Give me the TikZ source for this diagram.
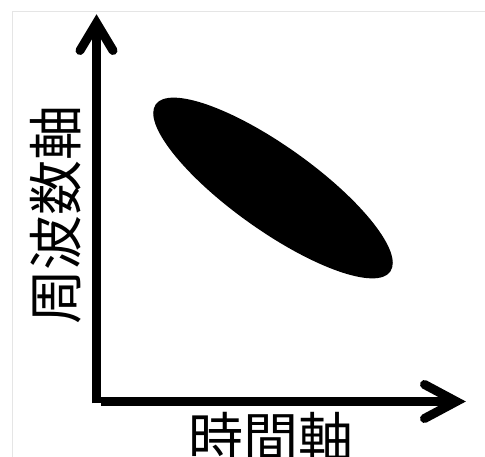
\documentclass[tikz,border=0pt]{standalone}
\usepackage{fontspec}
\newfontfamily\jpfont{Noto Sans CJK JP}
\usetikzlibrary{shapes.geometric}
\tikzset{
  axisline/.style={line width=9pt, line cap=butt},
  chevron/.style={line width=9pt, line cap=round, line join=miter},
  axislabel/.style={font=\jpfont\fontsize{55}{55}\selectfont, inner sep=0pt},
  blobshape/.style={ellipse, fill=black, draw=none, minimum width=288pt, minimum height=84pt, inner sep=0pt},
  framegray/.style={draw=black!10, line width=1pt}
}
\begin{document}
\begin{tikzpicture}[x=1pt,y=-1pt]
\useasboundingbox (0,0) rectangle (485,457);
\fill[white] (0,0) rectangle (485,457);
% light frame
\coordinate (fa) at (12.5,470);
\coordinate (fb) at (12.5,11.5);
\coordinate (fc) at (500,11.5);
\draw[framegray] (fa) -- (fb) -- (fc);
% axes
\coordinate (O) at (96.5,403.3);
\coordinate (Oh) at (100.5,401.5);
\coordinate (yv) at (96.5,23);
\coordinate (yl) at (80,50.5);
\coordinate (yr) at (113,50.5);
\coordinate (xv) at (456.3,401.5);
\coordinate (xu) at (424.5,384.5);
\coordinate (xd) at (424.5,418.5);
\draw[axisline] (O) -- (yv);
\draw[axisline] (Oh) -- (xv);
\draw[chevron] (yl) -- (yv) -- (yr);
\draw[chevron] (xu) -- (xv) -- (xd);
% ellipse
\node[blobshape, rotate=-35.5] (blob) at (273,188) {};
% labels
\node[axislabel, rotate=90] (ylab) at (56,215) {周波数軸};
\node[axislabel] (xlab) at (271,437.5) {時間軸};
\end{tikzpicture}
\end{document}
